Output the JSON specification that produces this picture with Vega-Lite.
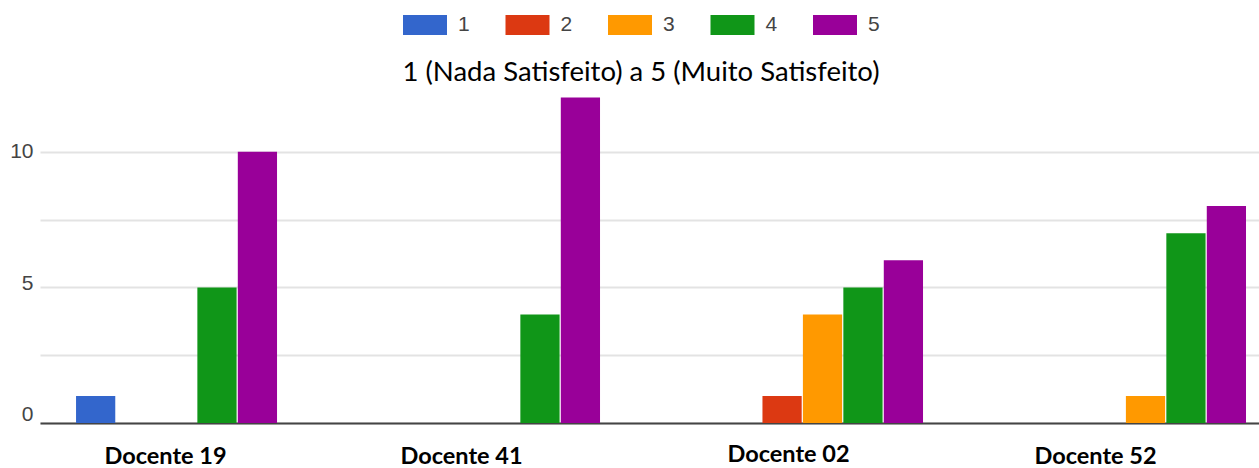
{
  "$schema": "https://vega.github.io/schema/vega-lite/v6.json",
  "autosize": "none",
  "width": 1219,
  "height": 339,
  "padding": {"left": 40, "top": 84, "right": 0, "bottom": 45},
  "background": "white",
  "data": {
    "values": [
      {"docente": "Docente 19", "nota": "1", "n": 1},
      {"docente": "Docente 19", "nota": "2", "n": 0},
      {"docente": "Docente 19", "nota": "3", "n": 0},
      {"docente": "Docente 19", "nota": "4", "n": 5},
      {"docente": "Docente 19", "nota": "5", "n": 10},
      {"docente": "Docente 41", "nota": "1", "n": 0},
      {"docente": "Docente 41", "nota": "2", "n": 0},
      {"docente": "Docente 41", "nota": "3", "n": 0},
      {"docente": "Docente 41", "nota": "4", "n": 4},
      {"docente": "Docente 41", "nota": "5", "n": 12},
      {"docente": "Docente 02", "nota": "1", "n": 0},
      {"docente": "Docente 02", "nota": "2", "n": 1},
      {"docente": "Docente 02", "nota": "3", "n": 4},
      {"docente": "Docente 02", "nota": "4", "n": 5},
      {"docente": "Docente 02", "nota": "5", "n": 6},
      {"docente": "Docente 52", "nota": "1", "n": 0},
      {"docente": "Docente 52", "nota": "2", "n": 0},
      {"docente": "Docente 52", "nota": "3", "n": 1},
      {"docente": "Docente 52", "nota": "4", "n": 7},
      {"docente": "Docente 52", "nota": "5", "n": 8}
    ]
  },
  "mark": {"type": "bar"},
  "encoding": {
    "x": {
      "field": "docente",
      "type": "nominal",
      "sort": ["Docente 19", "Docente 41", "Docente 02", "Docente 52"],
      "scale": {"paddingInner": 0.3777, "paddingOuter": 0.0759, "align": 0.735},
      "axis": {
        "title": null,
        "labelAngle": 0,
        "labelFont": "Lato",
        "labelFontWeight": "bold",
        "labelFontSize": 23.5,
        "labelColor": "#000000",
        "labelBaseline": "middle",
        "labelPadding": {"condition": {"test": "datum.value == 'Docente 02'", "value": 31}, "value": 33},
        "labelOffset": {"condition": [
          {"test": "datum.value == 'Docente 19'", "value": -11},
          {"test": "datum.value == 'Docente 41'", "value": -38},
          {"test": "datum.value == 'Docente 52'", "value": -50}
        ], "value": -34},
        "labelLimit": 300,
        "ticks": false,
        "grid": false,
        "domainColor": "#444444",
        "domainWidth": 2
      }
    },
    "xOffset": {
      "field": "nota",
      "type": "nominal",
      "scale": {"paddingInner": 0.03, "paddingOuter": 0}
    },
    "y": {
      "field": "n",
      "type": "quantitative",
      "scale": {"domain": [0, 12.5], "nice": false},
      "axis": {
        "title": null,
        "values": [0, 2.5, 5, 7.5, 10],
        "labelExpr": "datum.value % 5 == 0 ? datum.label : ''",
        "labelFont": "Liberation Sans",
        "labelFontSize": 21,
        "labelColor": "#444444",
        "labelPadding": 7,
        "labelOffset": {"condition": [
          {"test": "datum.value == 0", "value": -9},
          {"test": "datum.value == 5", "value": -4}
        ], "value": 0},
        "ticks": false,
        "domain": false,
        "gridColor": "#e3e3e3",
        "gridWidth": 2
      }
    },
    "color": {
      "field": "nota",
      "type": "nominal",
      "scale": {
        "domain": ["1", "2", "3", "4", "5"],
        "range": ["#3366cc", "#dc3912", "#ff9900", "#109618", "#990099"]
      },
      "legend": {
        "orient": "none",
        "legendX": 363,
        "legendY": -81,
        "direction": "horizontal",
        "title": "1 (Nada Satisfeito) a 5 (Muito Satisfeito)",
        "titleOrient": "bottom",
        "titleAnchor": "middle",
        "titleFont": "Lato",
        "titleFontSize": 27.5,
        "titleFontWeight": "normal",
        "titleColor": "#000000",
        "titleLimit": 2000,
        "titlePadding": 24,
        "symbolType": "M-1,-0.45L1,-0.45L1,0.45L-1,0.45Z",
        "symbolSize": 1936,
        "symbolStrokeWidth": 0,
        "symbolOpacity": 1,
        "labelFont": "Liberation Sans",
        "labelFontSize": 21,
        "labelColor": "#444444",
        "labelOffset": 11,
        "columnPadding": 35.5
      }
    }
  },
  "config": {"view": {"stroke": null}}
}
